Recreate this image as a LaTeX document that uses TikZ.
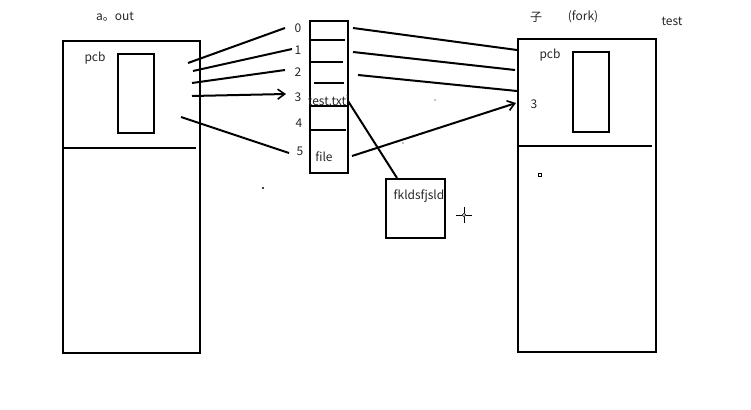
\documentclass[tikz,border=0pt]{standalone}
\usepackage{fontspec}
\setmainfont{Noto Sans CJK SC}
\usetikzlibrary{arrows.meta}
\begin{document}
\begin{tikzpicture}[x=1pt,y=-1pt,
  thk/.style={line width=2pt},
  lbl/.style={font=\fontsize{12}{14}\selectfont, inner sep=0pt, text=black!85},
  arr/.style={thk,-{Straight Barb[length=7pt,width=10pt,line width=1.6pt]}}]
\useasboundingbox (0,0) rectangle (751,409);
% left process
\node[draw,thk,minimum width=137pt,minimum height=312pt,inner sep=0pt,anchor=north west] (L) at (62,40) {};
\coordinate (Ld1) at (63,148); \coordinate (Ld2) at (196,148);
\draw[thk] (Ld1) -- (Ld2);
\node[draw,thk,minimum width=36pt,minimum height=79pt,inner sep=0pt,anchor=north west] (Lin) at (117,53) {};
\node[lbl] (Lpcb) at (95,58) {pcb};
\node[lbl] (Ltitle) at (115,17) {a。out};
% fd table
\node[draw,thk,minimum width=38pt,minimum height=152pt,inner sep=0pt,anchor=north west] (T) at (309,20) {};
\coordinate (t1a) at (310,40); \coordinate (t1b) at (345,40);
\coordinate (t2a) at (310,62); \coordinate (t2b) at (343,62);
\coordinate (t3a) at (314,83); \coordinate (t3b) at (344,83);
\coordinate (t4a) at (310,106); \coordinate (t4b) at (347,106);
\coordinate (t5a) at (311,130); \coordinate (t5b) at (346,130);
\draw[thk] (t1a)--(t1b) (t2a)--(t2b) (t3a)--(t3b) (t4a)--(t4b) (t5a)--(t5b);
\node[lbl] (n0) at (298,28) {0};
\node[lbl] (n1) at (298,50) {1};
\node[lbl] (n2) at (298,72) {2};
\node[lbl] (n3) at (298,97) {3};
\node[lbl] (n4) at (299,123) {4};
\node[lbl] (n5) at (300,151) {5};
\node[lbl] (ttxt) at (333,101) {test.txt'};
\node[lbl] (file) at (324,157) {file};
% left connectors
\coordinate (a0) at (188,63); \coordinate (e0) at (285,28);
\coordinate (a1) at (193,71); \coordinate (e1) at (292,49);
\coordinate (a2) at (192,83); \coordinate (e2) at (285,70);
\coordinate (a3) at (192,96); \coordinate (e3) at (286,94);
\coordinate (a5) at (181,117); \coordinate (e5) at (289,153);
\draw[thk] (a0) -- (e0);
\draw[thk] (a1) -- (e1);
\draw[thk] (a2) -- (e2);
\draw[arr] (a3) -- (e3);
\draw[thk] (a5) -- (e5);
% right process
\node[draw,thk,minimum width=138pt,minimum height=313pt,inner sep=0pt,anchor=north west] (R) at (517,38) {};
\coordinate (Rd1) at (518,146); \coordinate (Rd2) at (652,146);
\draw[thk] (Rd1) -- (Rd2);
\node[draw,thk,minimum width=36pt,minimum height=80pt,inner sep=0pt,anchor=north west] (Rin) at (572,51) {};
\node[lbl] (Rpcb) at (550,55) {pcb};
\node[lbl] (R3) at (534,104) {3};
\node[draw,line width=0.7pt,minimum width=3.5pt,minimum height=3pt,inner sep=0pt] (Rsq) at (540,175) {};
\node[lbl] (Rzi) at (536,17) {子};
\node[lbl] (Rfork) at (583,17) {(fork)};
\node[lbl] (Rtest) at (672,21) {test};
% right connectors
\coordinate (b0) at (353,28); \coordinate (c0) at (517,50);
\coordinate (b1) at (353,52); \coordinate (c1) at (515,70);
\coordinate (b2) at (358,75); \coordinate (c2) at (517,91);
\coordinate (fe) at (352,156); \coordinate (c3) at (516,103);
\draw[thk] (b0) -- (c0);
\draw[thk] (b1) -- (c1);
\draw[thk] (b2) -- (c2);
\draw[arr] (fe) -- (c3);
% file box
\node[draw,thk,minimum width=59pt,minimum height=59pt,inner sep=0pt,anchor=north west] (F) at (385,178) {};
\node[lbl] (Ftxt) at (419,196) {fkldsfjsld};
\coordinate (ts) at (348,101); \coordinate (Ftop) at (397,178);
\draw[thk] (ts) -- (Ftop);
% crosshair and dots
\node[circle,draw,line width=0.6pt,minimum size=3.5pt,inner sep=0pt] (X) at (464,215) {};
\fill (X.center) circle (0.5pt);
\draw[line width=0.7pt] (456,215) -- (X.west) (X.east) -- (472,215) (464,207) -- (X.north) (X.south) -- (464,223);
\fill (263,188) circle (1.2pt);
\fill (435,100) circle (0.6pt);
\fill (403,143) circle (0.6pt);
\end{tikzpicture}
\end{document}
